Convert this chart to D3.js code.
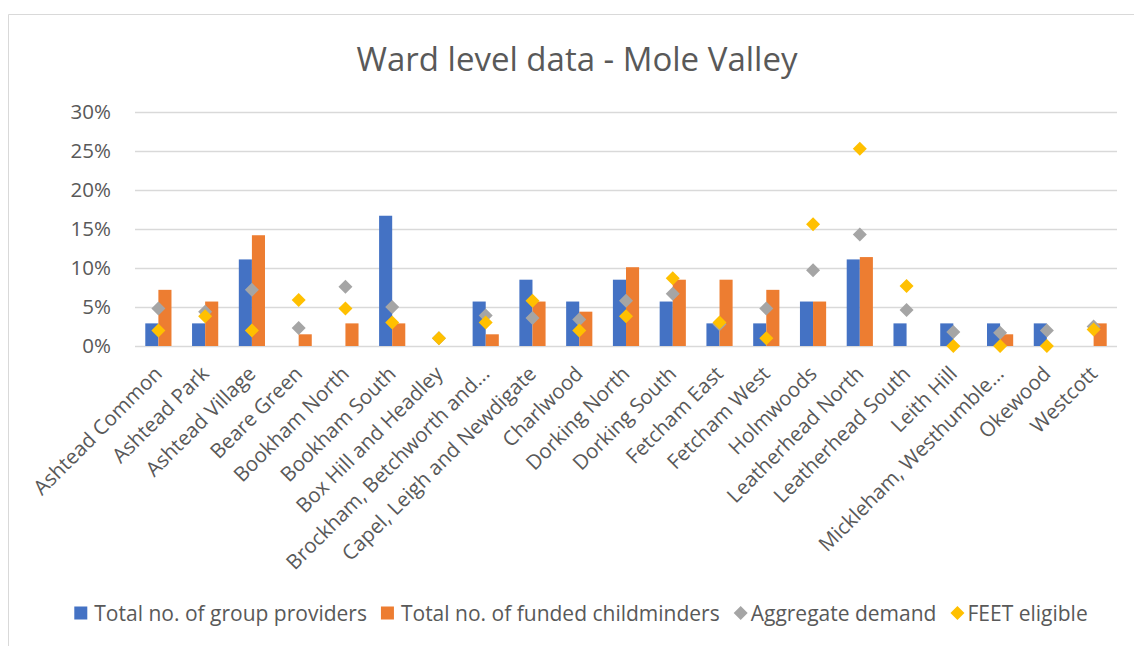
<!DOCTYPE html>
<meta charset="utf-8">
<html>
  <head>
    <script src="https://cdn.jsdelivr.net/npm/d3@7"></script>
    <style>
      body { margin: 0; background: #fff; }
      text { font-family: "Open Sans", sans-serif; fill: #595959; }
    </style>
  </head>
  <body>
    <div id="chart"></div>

    <script type="text/javascript">
      // values (percent)
      var wards = ["Ashtead Common", "Ashtead Park", "Ashtead Village", "Beare Green", "Bookham North",
                   "Bookham South", "Box Hill and Headley", "Brockham, Betchworth and...",
                   "Capel, Leigh and Newdigate", "Charlwood", "Dorking North", "Dorking South",
                   "Fetcham East", "Fetcham West", "Holmwoods", "Leatherhead North", "Leatherhead South",
                   "Leith Hill", "Mickleham, Westhumble...", "Okewood", "Westcott"];
      var groupProviders = [2.9, 2.9, 11.1, 0, 0, 16.7, 0, 5.7, 8.5, 5.7, 8.5, 5.7, 2.9, 2.9, 5.7, 11.1, 2.9, 2.9, 2.9, 2.9, 0];
      var childminders   = [7.2, 5.7, 14.2, 1.5, 2.9, 2.9, 0, 1.5, 5.7, 4.4, 10.1, 8.5, 8.5, 7.2, 5.7, 11.4, 0, 0, 1.5, 0, 2.9];
      var aggregate      = [4.8, 4.4, 7.2, 2.3, 7.6, 5.0, 1.0, 3.9, 3.6, 3.4, 5.8, 6.7, 2.8, 4.8, 9.7, 14.3, 4.6, 1.8, 1.7, 2.0, 2.5];
      var feet           = [2.0, 3.8, 2.0, 5.9, 4.8, 3.0, 1.0, 3.0, 5.8, 2.0, 3.8, 8.7, 3.0, 1.0, 15.6, 25.3, 7.7, 0, 0, 0, 2.1];
      var yTicks = [0, 5, 10, 15, 20, 25, 30];
      var seriesNames = ["Total no. of group providers", "Total no. of funded childminders", "Aggregate demand", "FEET eligible"];
      var colors = ["#4472C4", "#ED7D31", "#A5A5A5", "#FFC000"];

      var W = 1134, H = 646,
          plotLeft = 135, plotRight = 1117, plotTop = 112, plotBottom = 346;

      var svg = d3.select("#chart").append("svg")
          .attr("width", W)
          .attr("height", H);

      svg.append("path")
          .attr("d", "M8.5," + H + "V14.5H" + W)
          .style("fill", "none")
          .style("stroke", "#d9d9d9");

      svg.append("text")
          .attr("x", 577)
          .attr("y", 71)
          .style("text-anchor", "middle")
          .style("font-size", "33px")
          .text("Ward level data - Mole Valley");

      var x = d3.scaleBand().domain(wards).range([plotLeft, plotRight]);
      var y = d3.scaleLinear().domain([0, 30]).range([plotBottom, plotTop]);
      var bw = x.bandwidth() * 0.28;

      // gridlines
      var grid = svg.append("g")
          .attr("transform", "translate(" + plotLeft + ",0)")
          .call(d3.axisLeft(y).tickValues(yTicks).tickSize(-(plotRight - plotLeft)).tickFormat(""));
      grid.select(".domain").remove();
      grid.selectAll("line").style("stroke", "#d9d9d9").style("stroke-width", "1.5px");

      var yAxis = svg.append("g")
          .attr("transform", "translate(" + plotLeft + ",0)")
          .call(d3.axisLeft(y).tickValues(yTicks).tickSize(0).tickPadding(24).tickFormat(function (d) { return d + "%"; }));
      yAxis.select(".domain").remove();
      yAxis.selectAll("text").style("font-size", "20.5px").style("font-family", null).style("fill", "#595959");

      var xAxis = svg.append("g")
          .attr("transform", "translate(0," + plotBottom + ")")
          .call(d3.axisBottom(x).tickSize(0));
      xAxis.select(".domain").remove();
      xAxis.selectAll("text")
          .attr("x", 0).attr("y", 0).attr("dy", 0)
          .attr("transform", "translate(5,29) rotate(-45)")
          .style("text-anchor", "end")
          .style("font-size", "20.5px")
          .style("font-family", null)
          .style("fill", "#595959");

      svg.selectAll(".bar-group")
          .data(groupProviders)
          .enter().append("rect")
            .attr("x", function (d, i) { return x(wards[i]) + x.bandwidth() / 2 - bw; })
            .attr("y", function (d) { return y(d); })
            .attr("width", bw)
            .attr("height", function (d) { return plotBottom - y(d); })
            .style("fill", colors[0]);

      svg.selectAll(".bar-minder")
          .data(childminders)
          .enter().append("rect")
            .attr("x", function (d, i) { return x(wards[i]) + x.bandwidth() / 2; })
            .attr("y", function (d) { return y(d); })
            .attr("width", bw)
            .attr("height", function (d) { return plotBottom - y(d); })
            .style("fill", colors[1]);

      var diamond = function (r) { return "M0," + (-r) + "L" + r + ",0L0," + r + "L" + (-r) + ",0Z"; };

      [aggregate, feet].forEach(function (vals, k) {
        svg.selectAll(".pt" + k)
            .data(vals)
            .enter().append("path")
              .attr("d", diamond(7))
              .attr("transform", function (d, i) { return "translate(" + (x(wards[i]) + x.bandwidth() / 2) + "," + y(d) + ")"; })
              .style("fill", colors[k + 2]);
      });

      // legend
      var legend = svg.append("g").attr("transform", "translate(0,613)");
      var pos = 0;
      seriesNames.forEach(function (name, i) {
        var g = legend.append("g").attr("transform", "translate(" + pos + ",0)");
        if (i < 2) {
          g.append("rect").attr("x", 0).attr("y", -6.5).attr("width", 13).attr("height", 13).style("fill", colors[i]);
        } else {
          g.append("path").attr("d", diamond(7)).attr("transform", "translate(7,0)").style("fill", colors[i]);
        }
        var t = g.append("text")
            .attr("x", i < 2 ? 20 : 17)
            .attr("dy", "0.36em")
            .style("font-size", "21px")
            .text(name);
        pos += (i < 2 ? 20 : 17) + t.node().getComputedTextLength() + 14;
      });
      legend.attr("transform", "translate(" + (581 - (pos - 14) / 2) + ",613)");
    </script>
  </body>
</html>
